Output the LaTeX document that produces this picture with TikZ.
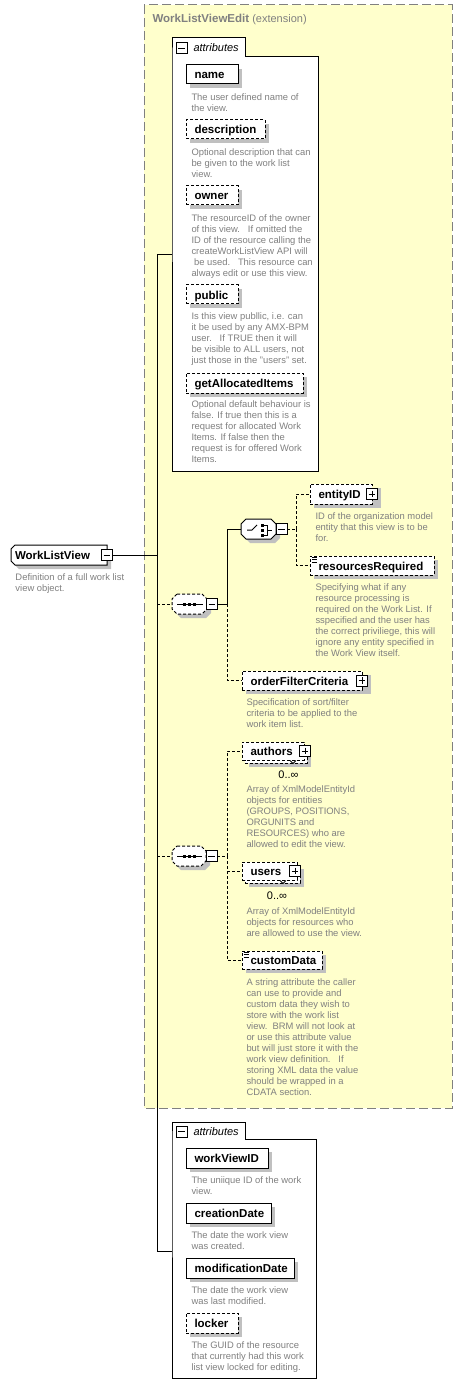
\documentclass[tikz,border=0pt]{standalone}
\usepackage{fontspec}
\setmainfont{Liberation Sans}
\definecolor{extyellow}{HTML}{FFFFCC}
\definecolor{extborder}{HTML}{808080}
\definecolor{desctext}{HTML}{808080}
\definecolor{shgray}{HTML}{C0C0C0}
\tikzset{
  elbox/.style={draw, fill=white, rectangle, inner sep=0pt, outer sep=0pt},
  optbox/.style={elbox, dash pattern=on 3pt off 2pt},
  holder/.style={rectangle, draw=none, inner sep=0pt, outer sep=0pt},
  dsh/.style={dash pattern=on 3pt off 2pt},
  lbl/.style={font=\fontsize{11.5}{13}\selectfont\bfseries, inner sep=0pt, outer sep=0pt},
  dsc/.style={font=\fontsize{9.4}{11}\selectfont, text=desctext, align=left, inner sep=0pt, anchor=base west},
  occ/.style={font=\fontsize{11}{13}\selectfont, inner sep=0pt, anchor=base},
  btn/.style={draw, fill=white, rectangle, minimum size=11pt, inner sep=0pt, outer sep=0pt},
  minusbtn/.style={btn, path picture={\draw ([xshift=2.2pt]path picture bounding box.west) -- ([xshift=-2.2pt]path picture bounding box.east);}},
  plusbtn/.style={btn, path picture={\draw ([xshift=2.2pt]path picture bounding box.west) -- ([xshift=-2.2pt]path picture bounding box.east); \draw ([yshift=-2.2pt]path picture bounding box.north) -- ([yshift=2.2pt]path picture bounding box.south);}},
}
% shadow rectangle offset 4px right and down
\newcommand\mkshadow[4]{\fill[shgray] (#1+4,#2+4) rectangle (#3+4,#4+4);}
% element box: name, style, x1, y1, x2, y2, label
\newcommand\mkelem[7]{%
  \node[#2, minimum width={(#5-#3)*1pt}, minimum height={(#6-#4)*1pt}, anchor=north west] (#1) at (#3,#4) {};
  \node[lbl, anchor=base west] (#1-t) at ([xshift=8.5pt,yshift=-4.5pt]#1.west) {#7};}
% octagon path: x1 y1 x2 y2 chamfer
\newcommand\octpath[5]{(#1+#5,#2) -- (#3-#5,#2) -- (#3,#2+#5) -- (#3,#4-#5) -- (#3-#5,#4) -- (#1+#5,#4) -- (#1,#4-#5) -- (#1,#2+#5) -- cycle}
\begin{document}
\begin{tikzpicture}[x=1pt,y=-1pt,line width=1pt]
\useasboundingbox (0,0) rectangle (462,1396);
\fill[white] (0,0) rectangle (462,1396);

% extension container
\draw[draw=extborder, fill=extyellow, dash pattern=on 9pt off 4pt] (144,5) rectangle (452,1108);
\node[anchor=base west, inner sep=0pt, text=extborder, font=\fontsize{11}{13}\selectfont] (exttitle) at (152,23) {{\fontsize{11.5}{13}\selectfont\bfseries WorkListViewEdit} (extension)};

% attributes container 1
\draw[fill=white] (172,57) -- (172,38) -- (245,38) -- (245,57) -- (318,57) -- (318,471) -- (172,471) -- cycle;
\node[minusbtn] (a1m) at (181.5,48.5) {};
\node[anchor=base west, inner sep=0pt, font=\fontsize{11}{13}\selectfont\itshape] (a1t) at (193,52) {attributes};

\mkshadow{186}{65}{238}{84}
\mkelem{name}{elbox}{186}{65}{238}{84}{name}
\node[dsc] (name-d) at (191,111.5) {The user defined name of\\the view.};
\mkshadow{186}{120}{265}{139}
\mkelem{descr}{optbox}{186}{120}{265}{139}{description}
\node[dsc] (descr-d) at (191,177.5) {Optional description that can\\be given to the work list\\view.};
\mkshadow{186}{186}{238}{205}
\mkelem{owner}{optbox}{186}{186}{238}{205}{owner}
\node[dsc] (owner-d) at (191,276.5) {The resourceID of the owner\\of this view.\ \ \ If omitted the\\ID of the resource calling the\\createWorkListView API will\\\ be used.\ \ \ This resource can\\always edit or use this view.};
\mkshadow{186}{285}{238}{304}
\mkelem{public}{optbox}{186}{285}{238}{304}{public}
\node[dsc] (public-d) at (191,363.5) {Is this view publlic, i.e. can\\it be used by any AMX-BPM\\user.\ \ \ If TRUE then it will\\be visible to ALL users, not\\just those in the "users" set.};
\mkshadow{186}{373}{303}{393}
\mkelem{gai}{optbox}{186}{373}{303}{393}{getAllocatedItems}
\node[dsc] (gai-d) at (191,462.5) {Optional default behaviour is\\false. If true then this is a\\request for allocated Work\\Items. If false then the\\request is for offered Work\\Items.};

% attributes container 2
\draw[fill=white] (172,1139) -- (172,1122) -- (245,1122) -- (245,1139) -- (316,1139) -- (316,1378) -- (172,1378) -- cycle;
\node[minusbtn] (a2m) at (181.5,1131.5) {};
\node[anchor=base west, inner sep=0pt, font=\fontsize{11}{13}\selectfont\itshape] (a2t) at (193,1135) {attributes};

\mkshadow{186}{1148}{268}{1168}
\mkelem{wvid}{elbox}{186}{1148}{268}{1168}{workViewID}
\node[dsc] (wvid-d) at (191,1194.5) {The uniique ID of the work\\view.};
\mkshadow{186}{1203}{271}{1223}
\mkelem{cdate}{elbox}{186}{1203}{271}{1223}{creationDate}
\node[dsc] (cdate-d) at (191,1249.5) {The date the work view\\was created.};
\mkshadow{186}{1258}{294}{1278}
\mkelem{mdate}{elbox}{186}{1258}{294}{1278}{modificationDate}
\node[dsc] (mdate-d) at (191,1304.5) {The date the work view\\was last modified.};
\mkshadow{186}{1313}{238}{1333}
\mkelem{locker}{optbox}{186}{1313}{238}{1333}{locker}
\node[dsc] (locker-d) at (191,1370.5) {The GUID of the resource\\that currently had this work\\list view locked for editing.};

% root element (left corners chamfered)
\fill[shgray] (19,549) -- (111,549) -- (111,569) -- (19,569) -- (15,565) -- (15,553) -- cycle;
\draw[fill=white] (15,545) -- (107,545) -- (107,565) -- (15,565) -- (11,561) -- (11,549) -- cycle;
\node[holder, minimum width=96pt, minimum height=20pt, anchor=north west] (wlv) at (11,545) {};
\node[lbl, anchor=base west] (wlv-t) at (15,559.5) {WorkListView};
\node[minusbtn] (wlvm) at (107,555) {};
\node[dsc] (wlv-d) at (15,591.5) {Definition of a full work list\\view object.};

% sequence 1
\fill[shgray] \octpath{176}{598}{211}{618}{5};
\draw[fill=white, dsh] \octpath{172}{594}{207}{614}{5};
\node[holder, minimum width=35pt, minimum height=20pt, anchor=north west] (s1) at (172,594) {};
\node[minusbtn] (s1m) at (212,604) {};
\draw (177,604) -- (203,604);
\foreach \xx in {184.5,189.5,194.5} \fill (\xx-1.5,602.5) rectangle (\xx+1.5,605.5);

% choice
\fill[shgray] \octpath{245}{523}{280}{543}{5};
\draw[fill=white] \octpath{241}{519}{276}{539}{5};
\node[holder, minimum width=35pt, minimum height=20pt, anchor=north west] (ch) at (241,519) {};
\node[minusbtn] (chm) at (281.5,529) {};
\draw (247,530) -- (252,530) -- (257,525);
\foreach \yy in {525,530,535} \fill (260.5,\yy-1.5) rectangle (263.5,\yy+1.5);
\draw (264,525) -- (267,525) -- (267,535) -- (264,535);
\draw (267,530) -- (272,530);

% choice children
\mkshadow{310}{484}{377}{504}
\mkelem{eid}{optbox}{310}{484}{372}{504}{entityID}
\node[plusbtn] (eidp) at (372,494) {};
\node[dsc] (eid-d) at (315,541.5) {ID of the organization model\\entity that this view is to be\\for.};
\mkshadow{310}{556}{434}{575}
\mkelem{rr}{optbox}{310}{556}{434}{575}{resourcesRequired}
\draw[line width=0.7pt] (312,557.5) -- (317,557.5) (312,559.7) -- (317,559.7) (312,561.9) -- (317,561.9);
\node[dsc] (rr-d) at (315,656.5) {Specifying what if any\\resource processing is\\required on the Work List. If\\sspecified and the user has\\the correct priviliege, this will\\ignore any entity specified in\\the Work View itself.};

% orderFilterCriteria
\mkshadow{242}{671}{367}{690}
\mkelem{ofc}{optbox}{242}{671}{362}{690}{orderFilterCriteria}
\node[plusbtn] (ofcp) at (362,680.5) {};
\node[dsc] (ofc-d) at (246,727.5) {Specification of sort/filter\\criteria to be applied to the\\work item list.};

% sequence 2
\fill[shgray] \octpath{176}{850}{210}{870}{5};
\draw[fill=white, dsh] \octpath{172}{846}{206}{866}{5};
\node[holder, minimum width=34pt, minimum height=20pt, anchor=north west] (s2) at (172,846) {};
\node[minusbtn] (s2m) at (211.5,856) {};
\draw (177,856) -- (202,856);
\foreach \xx in {184,189,194} \fill (\xx-1.5,854.5) rectangle (\xx+1.5,857.5);

% authors (multiple)
\mkshadow{245}{745}{307}{763}
\node[optbox, minimum width=62pt, minimum height=18pt, anchor=north west] (authb) at (245,745) {};
\mkelem{auth}{optbox}{242}{742}{304}{760}{authors}
\node[plusbtn] (authp) at (305,751) {};
\draw[line width=0.8pt] (290,760.5) -- (293,763.5) -- (296,760.5);
\node[occ] (auth-o) at (288.5,778.5) {0..∞};
\node[dsc] (auth-d) at (246,847.5) {Array of XmlModelEntityId\\objects for entities\\(GROUPS, POSITIONS,\\ORGUNITS and\\RESOURCES) who are\\allowed to edit the view.};

% users (multiple)
\mkshadow{245}{865}{300}{883}
\node[optbox, minimum width=55pt, minimum height=18pt, anchor=north west] (usrb) at (245,865) {};
\mkelem{usr}{optbox}{242}{862}{297}{880}{users}
\node[plusbtn] (usrp) at (295,871) {};
\draw[line width=0.8pt] (280,880.5) -- (283,883.5) -- (286,880.5);
\node[occ] (usr-o) at (277,899.5) {0..∞};
\node[dsc] (usr-d) at (246,936.5) {Array of XmlModelEntityId\\objects for resources who\\are allowed to use the view.};

% customData
\mkshadow{242}{951}{322}{969}
\mkelem{cd}{optbox}{242}{951}{322}{969}{customData}
\draw[line width=0.7pt] (243.5,952.5) -- (248.5,952.5) (243.5,954.7) -- (248.5,954.7) (243.5,956.9) -- (248.5,956.9);
\node[dsc] (cd-d) at (246,1095.5) {A string attribute the caller\\can use to provide and\\custom data they wish to\\store with the work list\\view.\ \ BRM will not look at\\or use this attribute value\\but will just store it with the\\work view definition.\ \ \ If\\storing XML data the value\\should be wrapped in a\\CDATA section.};

% connectors
\coordinate (spTop) at (157,255);
\coordinate (spBot) at (157,1251);
\coordinate (spW) at (157,555);
\coordinate (spS1) at (157,604);
\coordinate (spS2) at (157,856);
\coordinate (a1in) at (172,255);
\coordinate (a2in) at (172,1251);
\coordinate (j1) at (227,604);
\coordinate (j2) at (296,529);
\coordinate (j3) at (227,856);
\draw (spTop) -- (spBot);
\draw (spTop) -- (a1in);
\draw (spBot) -- (a2in);
\draw (wlvm.east) -- (spW);
\draw[dsh] (spS1) -- (s1.west);
\draw (s1m.east) -- (j1) |- (ch.west);
\draw[dsh] (j1) |- (ofc.west);
\draw[dsh] (chm.east) -- (j2);
\draw[dsh] (j2) |- (eid.west);
\draw[dsh] (j2) |- (rr.west);
\draw[dsh] (spS2) -- (s2.west);
\draw[dsh] (s2m.east) -- (j3);
\draw[dsh] (j3) |- (auth.west);
\draw[dsh] (j3) |- (usr.west);
\draw[dsh] (j3) |- (cd.west);
\end{tikzpicture}
\end{document}
